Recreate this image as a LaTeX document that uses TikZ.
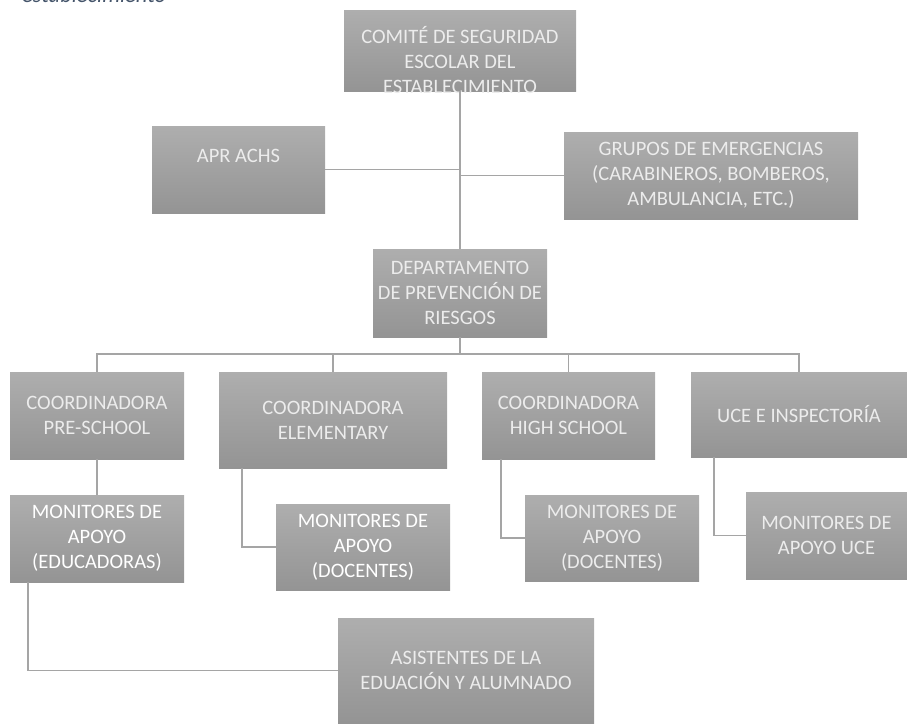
\documentclass[tikz,border=0pt]{standalone}
\usepackage{fontspec}
\setmainfont{Carlito}

\definecolor{boxtop}{RGB}{174,174,174}
\definecolor{boxbot}{RGB}{148,148,148}
\definecolor{boxtext}{RGB}{236,236,236}
\definecolor{linegray}{RGB}{165,165,165}
\definecolor{capblue}{RGB}{68,84,106}

\begin{document}
\begin{tikzpicture}[x=1pt, y=-1pt,
    txt/.style={text=boxtext, align=center, inner sep=0pt, font=\fontsize{20.5}{25}\selectfont},
    box/.style={txt, rectangle, top color=boxtop, bottom color=boxbot},
    conn/.style={draw=linegray, line width=1.6pt}]

    % Page size
    \def\W{907}
    \def\H{723}
    \useasboundingbox (0,0) rectangle (\W,\H);

    % Caption, cut off by the top edge
    \node[anchor=base west, inner sep=0pt, text=capblue, font=\fontsize{22.5}{26}\selectfont\itshape] (caption) at (22,2.5) {establecimiento};

    % Top level
    \node[box, minimum width=232pt, minimum height=81pt,
        label={[txt, yshift=-10pt]center:{COMITÉ DE SEGURIDAD\\ESCOLAR DEL\\ESTABLECIMIENTO}}] (comite) at (460,50.5) {};
    \node[box, minimum width=173pt, minimum height=87pt,
        label={[txt, yshift=14pt]center:{APR ACHS}}] (apr) at (238.5,169.5) {};
    \node[box, minimum width=294pt, minimum height=87pt] (grupos) at (711,175.5)
        {GRUPOS DE EMERGENCIAS\\(CARABINEROS, BOMBEROS,\\AMBULANCIA, ETC.)};
    \node[box, minimum width=174pt, minimum height=88pt] (depto) at (460,293)
        {DEPARTAMENTO\\DE PREVENCIÓN DE\\RIESGOS};

    % Coordinators
    \node[box, minimum width=174pt, minimum height=87pt] (presch) at (97,415.5) {COORDINADORA\\PRE-SCHOOL};
    \node[box, minimum width=228pt, minimum height=96pt] (elem) at (333,420) {COORDINADORA\\ELEMENTARY};
    \node[box, minimum width=173pt, minimum height=87pt] (highs) at (568.5,415.5) {COORDINADORA\\HIGH SCHOOL};
    \node[box, minimum width=216pt, minimum height=85pt] (uce) at (799,414.5) {UCE E INSPECTORÍA};

    % Monitors
    \node[box, text=white, minimum width=174pt, minimum height=87pt] (monpre) at (97,538.5) {MONITORES DE\\APOYO\\(EDUCADORAS)};
    \node[box, text=white, minimum width=174pt, minimum height=86pt] (monelem) at (363,547) {MONITORES DE\\APOYO\\(DOCENTES)};
    \node[box, minimum width=174pt, minimum height=86pt] (monhigh) at (612,538) {MONITORES DE\\APOYO\\(DOCENTES)};
    \node[box, minimum width=161pt, minimum height=87pt] (monuce) at (826.5,535.5) {MONITORES DE\\APOYO UCE};

    % Bottom
    \node[box, minimum width=256pt, minimum height=105pt] (asist) at (466,670.5) {ASISTENTES DE LA\\EDUACIÓN Y ALUMNADO};

    % Trunk and side branches
    \draw[conn] (comite.south) -- (depto.north);
    \draw[conn] (apr.east) -- (apr.east -| comite.south);
    \draw[conn] (grupos.west) -- (grupos.west -| comite.south);

    % Bus to the coordinators
    \coordinate (bus) at (460,354);
    \draw[conn] (depto.south) -- (bus);
    \draw[conn] (presch.north) |- (bus) -| (uce.north);
    \foreach \n in {elem, highs}
        \draw[conn] (\n.north) -- (\n.north |- bus);

    % Coordinators to monitors
    \draw[conn] (presch.south) -- (monpre.north);
    \draw[conn] ([xshift=23pt]elem.south west) |- (monelem.west);
    \draw[conn] ([xshift=19pt]highs.south west) |- (monhigh.west);
    \draw[conn] ([xshift=23pt]uce.south west) |- (monuce.west);
    \draw[conn] ([xshift=18pt]monpre.south west) |- (asist.west);

\end{tikzpicture}
\end{document}
